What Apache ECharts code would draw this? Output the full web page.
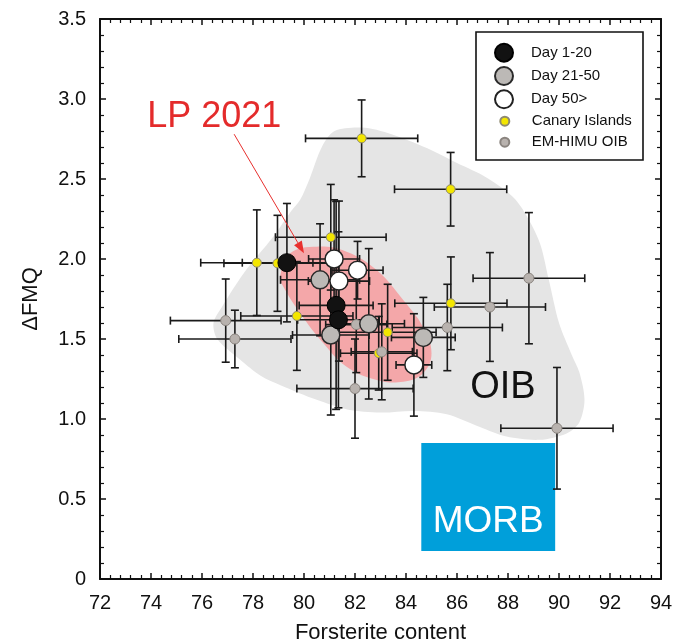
<!DOCTYPE html>
<html><head><meta charset="utf-8">
<script src="https://cdn.jsdelivr.net/npm/echarts@6/dist/echarts.min.js"></script>
<style>html,body{margin:0;padding:0;background:#fff}#c{width:689px;height:644px}</style>
</head><body><div id="c"></div>
<script>
// ---- data: [forsterite, dFMQ, xError, yError] ----
const day1_20 = [
  [79.33, 1.977, 1.75, 0.37],
  [81.26, 1.710, 1.45, 0.65],
  [81.35, 1.620, 1.60, 0.55]
];
const day21_50 = [
  [80.63, 1.870, 1.55, 0.35],
  [81.05, 1.525, 1.50, 0.50],
  [82.54, 1.595, 1.40, 0.47],
  [84.68, 1.510, 1.25, 0.25]
];
const day50plus = [
  [81.18, 2.000, 1.00, 0.37],
  [82.10, 1.930, 1.00, 0.18],
  [81.37, 1.862, 1.20, 0.50],
  [84.31, 1.338, 0.70, 0.32]
];
const canary = [
  [82.26, 2.754, 2.20, 0.24],
  [85.75, 2.436, 2.20, 0.23],
  [81.05, 2.136, 2.17, 0.33],
  [78.15, 1.977, 2.20, 0.33],
  [78.96, 1.973, 2.10, 0.30],
  [79.72, 1.644, 2.20, 0.34],
  [85.76, 1.723, 2.20, 0.29],
  [83.28, 1.542, 1.90, 0.30],
  [82.93, 1.411, 1.50, 0.23]
];
const emhimu = [
  [76.93, 1.615, 2.17, 0.26],
  [77.29, 1.500, 2.20, 0.18],
  [88.82, 1.880, 2.19, 0.41],
  [87.29, 1.700, 2.18, 0.34],
  [85.62, 1.572, 2.16, 0.27],
  [89.92, 0.942, 2.20, 0.38],
  [82.00, 1.190, 2.28, 0.31],
  [83.05, 1.420, 1.20, 0.30],
  [82.05, 1.590, 1.20, 0.30]
];
// field outlines in data units
const oibOutline = [
  [79.85,2.37],[80.24,2.51],[80.7,2.70],[81.2,2.80],[82.4,2.82],[83.6,2.77],[85.0,2.68],
  [86.0,2.60],[87.15,2.51],[88.3,2.37],[89.2,2.12],[89.6,1.87],[90.0,1.60],[90.5,1.40],
  [90.8,1.29],[91.0,1.12],[90.8,0.98],[90.3,0.91],[89.24,0.87],[87.94,0.89],[86.9,0.95],
  [85.6,1.03],[84.3,1.05],[83.0,1.04],[81.7,1.06],[80.5,1.12],[79.1,1.21],[78.3,1.27],
  [77.5,1.37],[76.6,1.50],[76.45,1.60],[76.78,1.70],[77.63,1.91],[78.8,2.14],[79.5,2.30]
];
const lpOutline = [
  [79.06,1.889],[79.46,2.036],[80.50,2.077],[81.67,2.046],[82.85,1.931],[83.89,1.744],
  [84.66,1.577],[85.0,1.411],[84.67,1.286],[83.89,1.233],[82.85,1.244],[81.67,1.327],
  [80.76,1.473],[79.85,1.661],[79.19,1.827]
];
const morbBox = [84.6, 89.85, 0.175, 0.85]; // xMin, xMax, yMin, yMax
const xRange = [72, 94];
const yRange = [0, 3.5];
const seriesNames = ['Day 1-20', 'Day 21-50', 'Day 50>', 'Canary Islands', 'EM-HIMU OIB'];

const FONT = '"Liberation Sans", Arial, Helvetica, sans-serif';
const chart = echarts.init(document.getElementById('c'));

function polyItem(outline, fill, smooth) {
  return function (params, api) {
    return { type: 'polygon', shape: { points: outline.map(p => api.coord(p)), smooth: smooth },
      style: { fill: fill, stroke: 'none' } };
  };
}
function errItem(params, api) {
  const x = api.value(0), y = api.value(1), ex = api.value(2), ey = api.value(3);
  const l = api.coord([x - ex, y]), r = api.coord([x + ex, y]);
  const t = api.coord([x, y + ey]), b = api.coord([x, y - ey]);
  const c = 4;
  const st = { stroke: '#1a1a1a', lineWidth: 1.6 };
  const ln = (x1, y1, x2, y2) => ({ type: 'line', shape: { x1, y1, x2, y2 }, style: st });
  return { type: 'group', children: [
    ln(l[0], l[1], r[0], r[1]), ln(t[0], t[1], b[0], b[1]),
    ln(l[0], l[1] - c, l[0], l[1] + c), ln(r[0], r[1] - c, r[0], r[1] + c),
    ln(t[0] - c, t[1], t[0] + c, t[1]), ln(b[0] - c, b[1], b[0] + c, b[1])
  ] };
}
const allErr = [].concat(canary, emhimu, day21_50, day50plus, day1_20);
const pts = arr => arr.map(d => [d[0], d[1]]);

function axisCommon(extra) {
  return Object.assign({
    type: 'value', splitLine: { show: false },
    axisLine: { show: true, onZero: false, lineStyle: { color: '#111', width: 2 } },
    axisTick: { show: true, inside: true, length: 6, lineStyle: { color: '#111', width: 1.5 } },
    minorTick: { show: true, splitNumber: 5, length: 4, lineStyle: { color: '#111', width: 1.2 } },
    minorSplitLine: { show: false }
  }, extra);
}

chart.setOption({
  animation: false,
  backgroundColor: '#fff',
  grid: { left: 100, right: 28, top: 19, bottom: 65, containLabel: false, outerBoundsMode: 'none' },
  xAxis: [
    axisCommon({ min: xRange[0], max: xRange[1], interval: 2, position: 'bottom',
      axisLabel: { color: '#111', fontSize: 20, fontFamily: FONT, margin: 14 },
      name: 'Forsterite content', nameLocation: 'middle', nameGap: 43,
      nameTextStyle: { color: '#111', fontSize: 22, fontFamily: FONT } }),
    axisCommon({ min: xRange[0], max: xRange[1], interval: 2, position: 'top', axisLabel: { show: false } })
  ],
  yAxis: [
    axisCommon({ min: yRange[0], max: yRange[1], interval: 0.5, position: 'left',
      axisLabel: { color: '#111', fontSize: 20, fontFamily: FONT, margin: 14,
        formatter: v => (v === 0 ? '0' : v.toFixed(1)) },
      name: '\u0394FMQ', nameLocation: 'middle', nameGap: 58, nameRotate: 90,
      nameTextStyle: { color: '#111', fontSize: 22, fontFamily: FONT } }),
    axisCommon({ min: yRange[0], max: yRange[1], interval: 0.5, position: 'right', axisLabel: { show: false } })
  ],
  graphic: [{ type: 'rect', z: 8, shape: { x: 476, y: 32, width: 167, height: 128 },
    style: { fill: '#fff', stroke: '#111', lineWidth: 1.6 } }],
  legend: [
    { data: seriesNames.slice(0, 3).map(n => ({ name: n, icon: 'circle' })), orient: 'vertical',
      left: 494, top: 42.7, padding: 0, itemWidth: 44, itemHeight: 18, itemGap: 3.3, z: 9, selectedMode: false,
      textStyle: { color: '#111', fontSize: 15, fontFamily: FONT, lineHeight: 15 } },
    { data: seriesNames.slice(3).map(n => ({ name: n, icon: 'circle' })), orient: 'vertical',
      left: 499.3, top: 113.7, padding: 0, itemWidth: 44, itemHeight: 9, itemGap: 6, z: 9, selectedMode: false,
      textStyle: { color: '#111', fontSize: 15, fontFamily: FONT, lineHeight: 15 } }
  ],
  series: [
    { type: 'custom', name: 'oib-field', z: 1, silent: true, data: [[80, 2]],
      renderItem: polyItem(oibOutline, '#e5e5e5', 0.3) },
    { type: 'custom', name: 'lp-field', z: 2, silent: true, data: [[80, 2]],
      renderItem: polyItem(lpOutline, '#f4a7a9', 0.4) },
    { type: 'custom', name: 'morb', z: 3, silent: true, data: [[80, 2]],
      renderItem: function (params, api) {
        const a = api.coord([morbBox[0], morbBox[3]]), b = api.coord([morbBox[1], morbBox[2]]);
        const c = api.coord([(morbBox[0] + morbBox[1]) / 2, 0.356]);
        return { type: 'group', children: [
          { type: 'rect', shape: { x: a[0], y: a[1], width: b[0] - a[0], height: b[1] - a[1] },
            style: { fill: '#009fda' } },
          { type: 'text', x: c[0], y: c[1], style: { text: 'MORB', fill: '#fff',
            font: '37px ' + FONT, align: 'center', verticalAlign: 'middle' } }
        ] };
      } },
    { type: 'custom', name: 'errors', z: 4, silent: true, data: allErr, renderItem: errItem },
    { type: 'scatter', name: 'Canary Islands', z: 5, data: pts(canary), symbol: 'circle', symbolSize: 9,
      itemStyle: { color: '#f3e600', borderColor: '#8f8a70', borderWidth: 1, opacity: 1 } },
    { type: 'scatter', name: 'EM-HIMU OIB', z: 5, data: pts(emhimu), symbol: 'circle', symbolSize: 10,
      itemStyle: { color: '#b8b2ae', borderColor: '#8a847f', borderWidth: 1, opacity: 1 } },
    { type: 'scatter', name: 'Day 21-50', z: 6, data: pts(day21_50), symbol: 'circle', symbolSize: 18,
      itemStyle: { color: '#bcb9b6', borderColor: '#2a2a2a', borderWidth: 1.5, opacity: 1 } },
    { type: 'scatter', name: 'Day 50>', z: 6, data: pts(day50plus), symbol: 'circle', symbolSize: 18,
      itemStyle: { color: '#ffffff', borderColor: '#222', borderWidth: 1.5, opacity: 1 } },
    { type: 'scatter', name: 'Day 1-20', z: 6, data: pts(day1_20), symbol: 'circle', symbolSize: 18,
      itemStyle: { color: '#121212', borderColor: '#000', borderWidth: 1, opacity: 1 } },
    { type: 'custom', name: 'annotations', z: 7, silent: true, data: [[80, 2]],
      renderItem: function (params, api) {
        const oib = api.coord([87.8, 1.197]);
        const lp = api.coord([76.48, 2.89]);
        const p0 = api.coord([77.26, 2.78]), p1 = api.coord([80.0, 2.036]);
        const ang = Math.atan2(p1[1] - p0[1], p1[0] - p0[0]);
        const hl = 12, hw = 4.5;
        const bx = p1[0] - hl * Math.cos(ang), by = p1[1] - hl * Math.sin(ang);
        const nx = -Math.sin(ang), ny = Math.cos(ang);
        return { type: 'group', children: [
          { type: 'text', x: oib[0], y: oib[1], style: { text: 'OIB', fill: '#111',
            font: '38px ' + FONT, align: 'center', verticalAlign: 'middle' } },
          { type: 'text', x: lp[0], y: lp[1], style: { text: 'LP 2021', fill: '#e42b2b',
            font: '36px ' + FONT, align: 'center', verticalAlign: 'middle' } },
          { type: 'line', shape: { x1: p0[0], y1: p0[1], x2: bx, y2: by },
            style: { stroke: '#e8302e', lineWidth: 1 } },
          { type: 'polygon', shape: { points: [[p1[0], p1[1]], [bx + hw * nx, by + hw * ny], [bx - hw * nx, by - hw * ny]] },
            style: { fill: '#e8302e' } }
        ] };
      } }
  ]
});
</script></body></html>
